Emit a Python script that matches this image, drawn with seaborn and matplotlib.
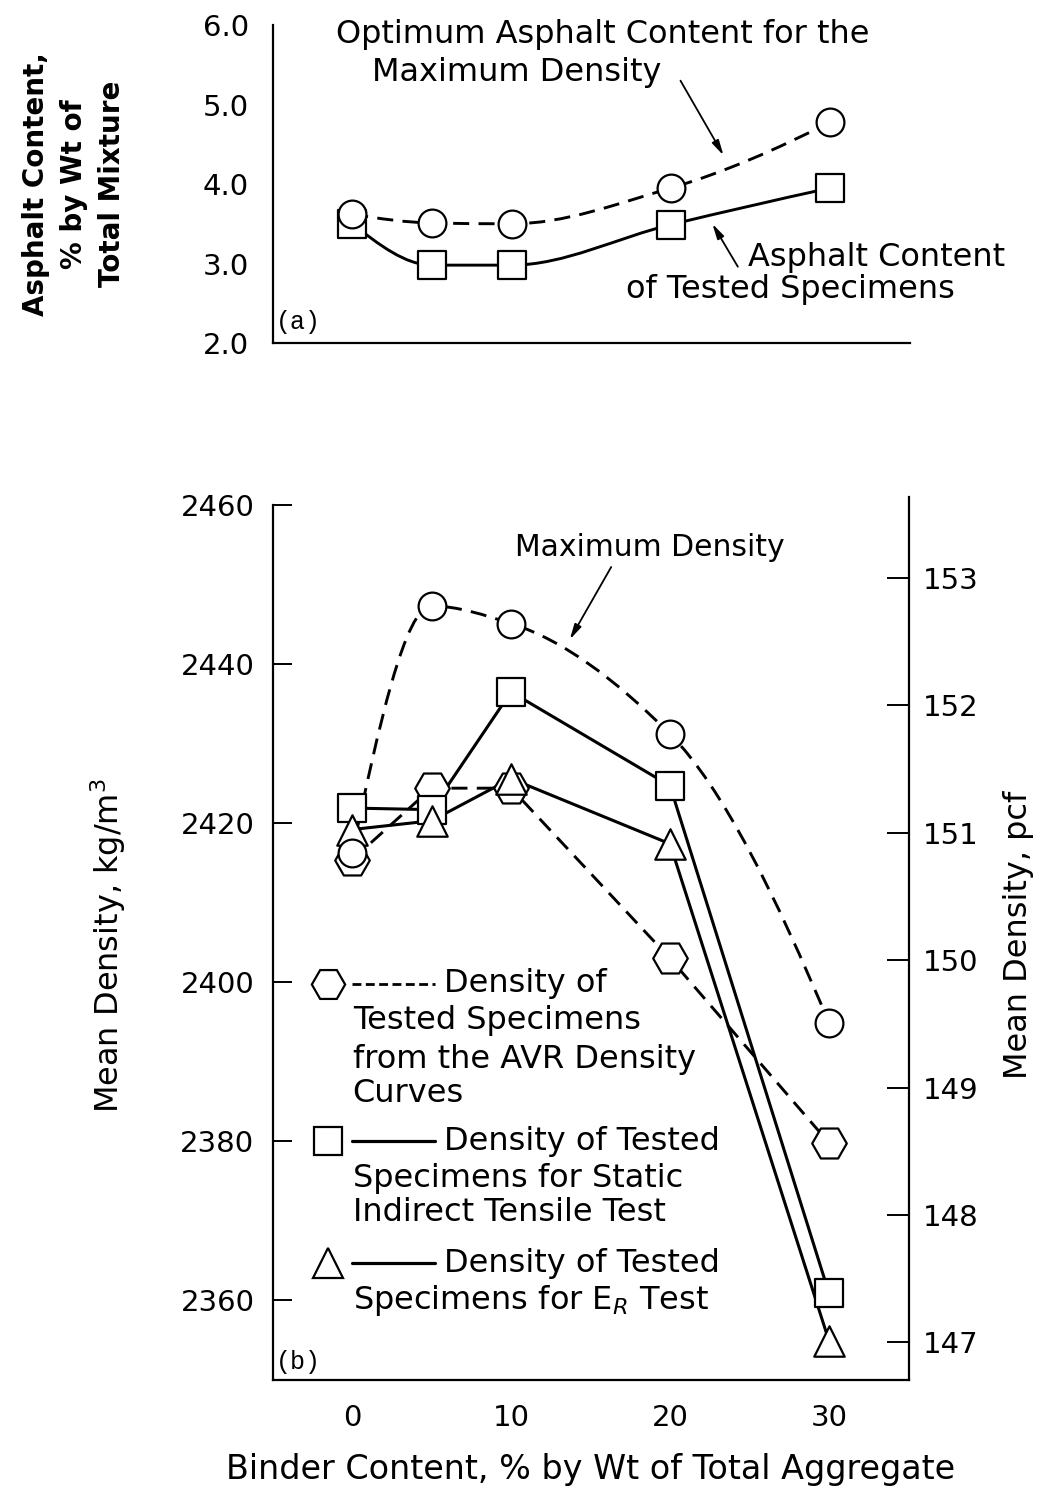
import numpy as np
import matplotlib
matplotlib.use("Agg")
import matplotlib.pyplot as plt
from matplotlib.path import Path
from matplotlib.patches import PathPatch
from matplotlib.ticker import FixedLocator
import seaborn as sns

# ---------------- data ----------------
binder = [0, 5, 10, 20, 30]

# (a) asphalt content, % by wt of total mixture
ac_optimum = [3.62, 3.51, 3.50, 3.95, 4.78]
ac_tested = [3.50, 2.98, 2.98, 3.49, 3.95]

# (b) mean density, kg/m3
dens_max = [2416.2, 2447.3, 2445.1, 2431.2, 2394.9]
dens_avr = [2415.4, 2424.4, 2424.4, 2403.0, 2379.8]
dens_static = [2421.9, 2421.7, 2436.5, 2424.7, 2360.9]
dens_er = [2419.2, 2420.3, 2425.6, 2417.4, 2354.9]

a_yticks = [2.0, 3.0, 4.0, 5.0, 6.0]
b_yticks = [2360, 2380, 2400, 2420, 2440, 2460]
pcf_ticks = [147, 148, 149, 150, 151, 152, 153]
x_ticks = [0, 10, 20, 30]
KG_PER_PCF = 16.0185

INK = "black"

sns.set_style("white")
plt.rcParams["font.family"] = ["DejaVu Sans"]
plt.rcParams["mathtext.fontset"] = "dejavusans"
plt.rcParams["text.color"] = INK
plt.rcParams["xtick.color"] = INK
plt.rcParams["ytick.color"] = INK
plt.rcParams["axes.labelcolor"] = INK
plt.rcParams["axes.edgecolor"] = INK


def smooth_path(xs, ys):
    """Monotone cubic (PCHIP-style) Bezier path through the given points."""
    x = np.asarray(xs, float)
    y = np.asarray(ys, float)
    n = len(x)
    h = np.diff(x)
    d = np.diff(y) / h
    m = np.zeros(n)
    for k in range(1, n - 1):
        if d[k - 1] * d[k] > 0:
            w1 = 2 * h[k] + h[k - 1]
            w2 = h[k] + 2 * h[k - 1]
            m[k] = (w1 + w2) / (w1 / d[k - 1] + w2 / d[k])

    def end_slope(h0, h1, d0, d1):
        s = ((2 * h0 + h1) * d0 - h0 * d1) / (h0 + h1)
        if np.sign(s) != np.sign(d0):
            s = 0.0
        elif np.sign(d0) != np.sign(d1) and abs(s) > abs(3 * d0):
            s = 3 * d0
        return s

    m[0] = end_slope(h[0], h[1], d[0], d[1])
    m[-1] = end_slope(h[-1], h[-2], d[-1], d[-2])
    verts = [(x[0], y[0])]
    codes = [Path.MOVETO]
    for k in range(n - 1):
        verts += [(x[k] + h[k] / 3, y[k] + m[k] * h[k] / 3),
                  (x[k + 1] - h[k] / 3, y[k + 1] - m[k + 1] * h[k] / 3),
                  (x[k + 1], y[k + 1])]
        codes += [Path.CURVE4] * 3
    return Path(verts, codes)


def add_curve(ax, xs, ys, ls):
    ax.add_patch(PathPatch(smooth_path(xs, ys), fill=False, edgecolor=INK,
                           lw=2.1, linestyle=ls, zorder=2, capstyle="butt"))


def open_markers(ax, xs, ys, marker, size):
    sns.scatterplot(x=xs, y=ys, ax=ax, marker=marker, s=size,
                    facecolor="white", edgecolor=INK, linewidth=1.6,
                    zorder=4, legend=False)


DASH = (0, (5.5, 3.2))
ARROW = dict(arrowstyle="-|>,head_length=0.9,head_width=0.22",
             lw=1.3, color=INK, shrinkA=0, shrinkB=0)
TAG_FONT = ["Liberation Mono", "DejaVu Sans Mono"]
TICK_FS = 21

fig = plt.figure(figsize=(10.39, 14.89), dpi=100)

# ---------------- (a) asphalt content ----------------
ax_a = fig.add_axes([0.2623, 0.7696, 0.6135, 0.2136])
add_curve(ax_a, binder, ac_optimum, DASH)
add_curve(ax_a, binder, ac_tested, "-")
open_markers(ax_a, binder, ac_tested, "s", 400)
open_markers(ax_a, binder, ac_optimum, "o", 400)

ax_a.set_xlim(-5, 35)
ax_a.set_ylim(2.0, 6.0)
for side in ("top", "right"):
    ax_a.spines[side].set_visible(False)
for side in ("left", "bottom"):
    ax_a.spines[side].set_linewidth(1.6)
ax_a.set_xticks(x_ticks)
ax_a.set_xticklabels([])
ax_a.tick_params(axis="x", direction="in", length=15, width=1.2)
ax_a.set_yticks(a_yticks)
ax_a.set_yticklabels([f"{v:.1f}" for v in a_yticks], fontsize=TICK_FS)
ax_a.tick_params(axis="y", which="major", length=0, pad=17)
ax_a.yaxis.set_minor_locator(FixedLocator([6.0]))
ax_a.tick_params(axis="y", which="minor", direction="in", length=12,
                 width=1.6)
ax_a.set_xlabel("")
ax_a.set_ylabel("")

ax_a.text(15.7, 5.875, "Optimum Asphalt Content for the", fontsize=23,
          ha="center", va="center")
ax_a.text(10.35, 5.40, "Maximum Density", fontsize=23, ha="center",
          va="center")
ax_a.annotate("", xy=(23.3, 4.36), xytext=(20.6, 5.30), arrowprops=ARROW)
ax_a.text(32.9, 3.08, "Asphalt Content", fontsize=23, ha="center",
          va="center")
ax_a.text(27.5, 2.67, "of Tested Specimens", fontsize=23, ha="center",
          va="center")
ax_a.annotate("", xy=(22.6, 3.50), xytext=(24.2, 2.96), arrowprops=ARROW)
ax_a.text(0.005, 0.065, "(a)", transform=ax_a.transAxes, fontsize=18,
          family=TAG_FONT, ha="left", va="center")

fig.text(0.071, 0.8764, "Asphalt Content,\n% by Wt of\nTotal Mixture",
         rotation=90, ha="center", va="center", fontsize=20,
         fontweight="bold", linespacing=1.45, multialignment="center")

# ---------------- (b) mean density ----------------
ax_b = fig.add_axes([0.2623, 0.0732, 0.6121, 0.5930])
add_curve(ax_b, binder, dens_max, DASH)
sns.lineplot(x=binder, y=dens_avr, ax=ax_b, color=INK, lw=2.1,
             linestyle=DASH, zorder=2)
sns.lineplot(x=binder, y=dens_static, ax=ax_b, color=INK, lw=2.2, zorder=2)
sns.lineplot(x=binder, y=dens_er, ax=ax_b, color=INK, lw=2.2, zorder=2)
open_markers(ax_b, binder, dens_avr, "H", 620)
open_markers(ax_b, binder, dens_static, "s", 420)
open_markers(ax_b, binder, dens_er, "^", 480)
open_markers(ax_b, binder, dens_max, "o", 400)

ax_b.set_xlim(-5, 35)
ax_b.set_ylim(2350, 2461)
ax_b.spines["top"].set_visible(False)
ax_b.spines["right"].set_visible(False)
for side in ("left", "bottom"):
    ax_b.spines[side].set_linewidth(1.6)
ax_b.spines["left"].set_bounds(2350, 2460)
ax_b.set_xticks(x_ticks)
ax_b.set_xticklabels([str(v) for v in x_ticks], fontsize=TICK_FS)
ax_b.tick_params(axis="x", direction="in", length=15, width=1.4, pad=17)
ax_b.set_yticks(b_yticks)
ax_b.set_yticklabels([str(v) for v in b_yticks], fontsize=TICK_FS)
ax_b.tick_params(axis="y", direction="in", length=14, width=1.4, pad=13)
ax_b.set_xlabel("")
ax_b.set_ylabel("")

ax_pcf = ax_b.twinx()
ax_pcf.set_ylim(2350 / KG_PER_PCF, 2461 / KG_PER_PCF)
for side in ("top", "left", "bottom"):
    ax_pcf.spines[side].set_visible(False)
ax_pcf.spines["right"].set_linewidth(1.6)
ax_pcf.set_yticks(pcf_ticks)
ax_pcf.set_yticklabels([str(v) for v in pcf_ticks], fontsize=TICK_FS)
ax_pcf.tick_params(axis="y", direction="in", length=16, width=1.4, pad=10)
ax_pcf.grid(False)

ax_b.text(18.7, 2454.6, "Maximum Density", fontsize=21.5, ha="center",
          va="center")
ax_b.annotate("", xy=(13.7, 2443.1), xytext=(16.3, 2452.2), arrowprops=ARROW)
ax_b.text(0.005, 0.02, "(b)", transform=ax_b.transAxes, fontsize=18,
          family=TAG_FONT, ha="left", va="center")

# legend key rows
tA = ax_b.transAxes
key_x, line_x0, line_x1, text_x, cont_x = 0.0865, 0.125, 0.255, 0.270, 0.126
LFS = 23
ax_b.plot([key_x], [0.449], transform=tA, marker="H", ms=24, mfc="white",
          mec=INK, mew=1.6, ls="none", clip_on=False)
ax_b.plot([line_x0, line_x1], [0.449, 0.449], transform=tA, color=INK,
          lw=2.0, ls=(0, (3.2, 1.6)), clip_on=False)
ax_b.text(text_x, 0.449, "Density of", transform=tA, fontsize=LFS,
          va="center", ha="left")
ax_b.text(cont_x, 0.4068, "Tested Specimens", transform=tA, fontsize=LFS,
          va="center", ha="left")
ax_b.text(cont_x, 0.3633, "from the AVR Density", transform=tA,
          fontsize=LFS, va="center", ha="left")
ax_b.text(cont_x, 0.3241, "Curves", transform=tA, fontsize=LFS,
          va="center", ha="left")

ax_b.plot([key_x], [0.2703], transform=tA, marker="s", ms=20, mfc="white",
          mec=INK, mew=1.6, ls="none", clip_on=False)
ax_b.plot([line_x0, line_x1], [0.2703, 0.2703], transform=tA, color=INK,
          lw=2.3, clip_on=False)
ax_b.text(text_x, 0.2703, "Density of Tested", transform=tA, fontsize=LFS,
          va="center", ha="left")
ax_b.text(cont_x, 0.2281, "Specimens for Static", transform=tA,
          fontsize=LFS, va="center", ha="left")
ax_b.text(cont_x, 0.1897, "Indirect Tensile Test", transform=tA,
          fontsize=LFS, va="center", ha="left")

ax_b.plot([key_x], [0.1320], transform=tA, marker="^", ms=22, mfc="white",
          mec=INK, mew=1.6, ls="none", clip_on=False)
ax_b.plot([line_x0, line_x1], [0.1320, 0.1320], transform=tA, color=INK,
          lw=2.3, clip_on=False)
ax_b.text(text_x, 0.1320, "Density of Tested", transform=tA, fontsize=LFS,
          va="center", ha="left")
ax_b.text(cont_x, 0.0897, "Specimens for E$_R$ Test", transform=tA,
          fontsize=LFS, va="center", ha="left")

fig.text(0.104, 0.365, "Mean Density, kg/m$^3$", rotation=90, ha="center",
         va="center", fontsize=23)
fig.text(0.980, 0.372, "Mean Density, pcf", rotation=90, ha="center",
         va="center", fontsize=23)
fig.text(0.568, 0.0128, "Binder Content, % by Wt of Total Aggregate",
         ha="center", va="center", fontsize=24)

fig.savefig("out.png", dpi=100, facecolor="white")
